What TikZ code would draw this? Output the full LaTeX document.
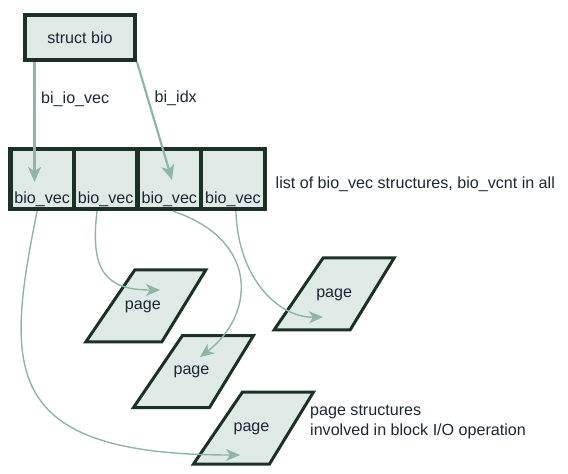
\documentclass[tikz,border=0pt]{standalone}
\usepackage{fontspec}
\setmainfont{Liberation Sans}
\usetikzlibrary{arrows.meta,calc}
\definecolor{fillc}{HTML}{DFEAE6}
\definecolor{linec}{HTML}{1B3126}
\definecolor{arrowc}{HTML}{8DB5A8}
\definecolor{textc}{HTML}{1A2735}
\begin{document}
\begin{tikzpicture}[x=1pt,y=-1pt,
  every node/.style={font=\fontsize{16.1}{20}\selectfont, text=textc},
  structbox/.style={draw=linec, fill=fillc, line width=4pt, rectangle, inner sep=0pt,
    minimum width=110pt, minimum height=45pt},
  cellbox/.style={draw=linec, fill=fillc, line width=4.4pt, rectangle, inner sep=0pt,
    minimum width=63.6pt, minimum height=60pt},
  pageshape/.style={draw=linec, fill=fillc, line width=3pt, line join=miter},
  pagetxt/.style={inner sep=0pt},
  lbl/.style={inner sep=0pt, anchor=base west},
  celltxt/.style={inner sep=0pt, anchor=base},
  arr/.style={draw=arrowc, line width=2.2pt, -{Stealth[length=15pt,width=13pt,inset=4pt]}},
  carr/.style={draw=arrowc, line width=1.4pt, -{Stealth[length=14pt,width=12pt,inset=4pt]}}
]
\useasboundingbox (0,0) rectangle (568,474);

% struct bio
\node[structbox] (sb) at (80,37.5) {struct bio};

% bio_vec array
\node[cellbox] (c1) at (42.1,179) {};
\node[cellbox] (c2) at (105.7,179) {};
\node[cellbox] (c3) at (169.3,179) {};
\node[cellbox] (c4) at (232.9,179) {};
\node[celltxt] (v1) at (42.1,203.2) {bio\_vec};
\node[celltxt] (v2) at (105.7,203.2) {bio\_vec};
\node[celltxt] (v3) at (169.3,203.2) {bio\_vec};
\node[celltxt] (v4) at (232.9,203.2) {bio\_vec};

% pages (parallelogram-like shapes)
\coordinate (p1c) at (145.9,305.8);
\coordinate (p2c) at (193.5,371.5);
\coordinate (p3c) at (253.5,428);
\coordinate (p4c) at (334.2,293.8);
\foreach \c in {p1c,p2c,p3c,p4c}{
  \draw[pageshape] ($(\c)+(-60,36)$) -- ($(\c)+(16,36)$) -- ($(\c)+(60,-36)$) -- ($(\c)+(-11,-36)$) -- cycle;
}
\node[pagetxt] (p1) at ($(p1c)+(-3,0.7)$) {page};
\node[pagetxt] (p2) at ($(p2c)+(-2,0.7)$) {page};
\node[pagetxt] (p3) at ($(p3c)+(-2,0.7)$) {page};
\node[pagetxt] (p4) at ($(p4c)+(0,0.7)$) {page};

% labels
\node[lbl] (l1) at (41,103) {bi\_io\_vec};
\node[lbl] (l2) at (154.5,102) {bi\_idx};
\node[lbl] (l3) at (275.5,188) {list of bio\_vec structures, bio\_vcnt in all};
\node[lbl] (l4) at (310,415.7) {page structures};
\node[lbl] (l5) at (310,435.7) {involved in block I/O operation};

% arrow tips
\coordinate (tA) at (34.5,182);
\coordinate (tB) at (172,180);
\coordinate (tC) at (240,455);
\coordinate (tD) at (160,290);
\coordinate (tE) at (200,357);
\coordinate (tF) at (323,317);

% arrows
\draw[arr] ([xshift=11.5pt]sb.south west) -- (tA);
\draw[arr] (sb.south east) -- (tB);
\draw[carr] ([xshift=-5pt]c1.south) .. controls (5,370) and (0,455) .. (tC);
\draw[carr] ([xshift=-8.7pt]c2.south) .. controls (90,270) and (105,290) .. (tD);
\draw[carr] ([xshift=3.7pt]c3.south) .. controls (260,240) and (255,315) .. (tE);
\draw[carr] ([xshift=3pt]c4.south) .. controls (238,280) and (280,318) .. (tF);
\end{tikzpicture}
\end{document}
